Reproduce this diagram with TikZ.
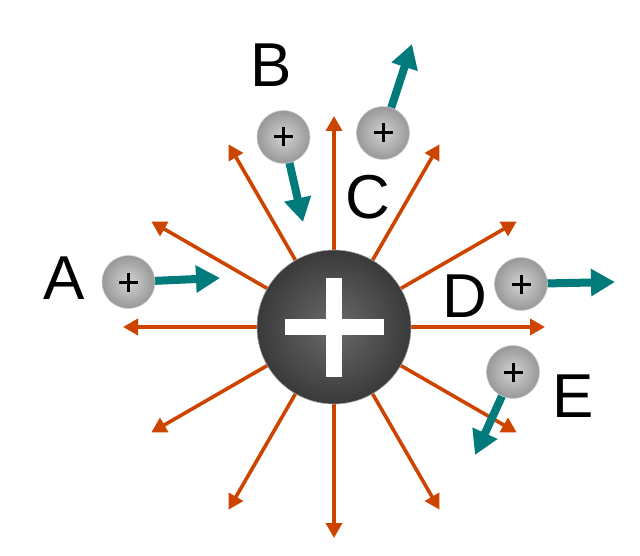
\documentclass[tikz,border=0pt]{standalone}
\usepackage{fontspec}
\setmainfont{Liberation Sans}
\usetikzlibrary{arrows.meta,calc}
\definecolor{fieldred}{RGB}{204,68,0}
\definecolor{forceteal}{RGB}{0,122,122}
\definecolor{bigin}{RGB}{106,106,106}
\definecolor{bigout}{RGB}{58,58,58}
\definecolor{smallin}{RGB}{210,210,210}
\definecolor{smallout}{RGB}{152,152,152}
\begin{document}
\begin{tikzpicture}[x=1pt,y=-1pt,
  fieldline/.style={draw=fieldred, line width=3.6pt, -{Triangle[length=15pt,width=16pt]}},
  forcearrow/.style={draw=forceteal, line width=8pt, -{Triangle[length=24pt,width=26pt]}},
  bigcharge/.style={circle, minimum size=154pt, inner sep=0pt, shading=radial, inner color=bigin, outer color=bigout, draw=gray!70, line width=0.6pt},
  testcharge/.style={circle, minimum size=53pt, inner sep=0pt, shading=radial, inner color=smallin, outer color=smallout, draw=gray!40, line width=0.6pt},
  bigplus/.style={fill=white},
  smallplus/.style={draw=black, line width=3pt},
  letter/.style={inner sep=0pt, font=\fontsize{62}{62}\selectfont}]
\useasboundingbox (0,0) rectangle (640,556);
% field lines
\coordinate (Qc) at (334,327);
\foreach \a in {0,30,...,330}{
  \coordinate (f\a) at ($(Qc)+(\a:211)$);
  \draw[fieldline] (Qc) -- (f\a);
}
% central charge
\node[bigcharge] (Q) at (Qc) {};
\fill[bigplus] ($(Q.center)+(-49.5,-8)$) rectangle ($(Q.center)+(49.5,8)$);
\fill[bigplus] ($(Q.center)+(-8,-49.5)$) rectangle ($(Q.center)+(8,49.5)$);
% force arrows
\coordinate (qa) at (128.5,282);
\coordinate (qb) at (283.5,137);
\coordinate (qc) at (383,133);
\coordinate (qd) at (521,284);
\coordinate (qe) at (513,372);
\coordinate (ta) at (220,278);
\coordinate (tb) at (303,222);
\coordinate (tc) at (412,44);
\coordinate (td) at (615,282);
\coordinate (te) at (475,455);
\foreach \q in {a,b,c,d,e}{
  \draw[forcearrow] (q\q) -- (t\q);
}
\foreach \q in {a,b,c,d,e}{
  \node[testcharge] (Q\q) at (q\q) {};
  \draw[smallplus] ($(Q\q.center)+(-9.5,0)$) -- ($(Q\q.center)+(9.5,0)$);
  \draw[smallplus] ($(Q\q.center)+(0,-9.5)$) -- ($(Q\q.center)+(0,9.5)$);
}
% labels
\node[letter] (LA) at (64,278) {A};
\node[letter] (LB) at (271,65) {B};
\node[letter] (LC) at (368,197) {C};
\node[letter] (LD) at (465,296) {D};
\node[letter] (LE) at (573,396) {E};
\end{tikzpicture}
\end{document}
